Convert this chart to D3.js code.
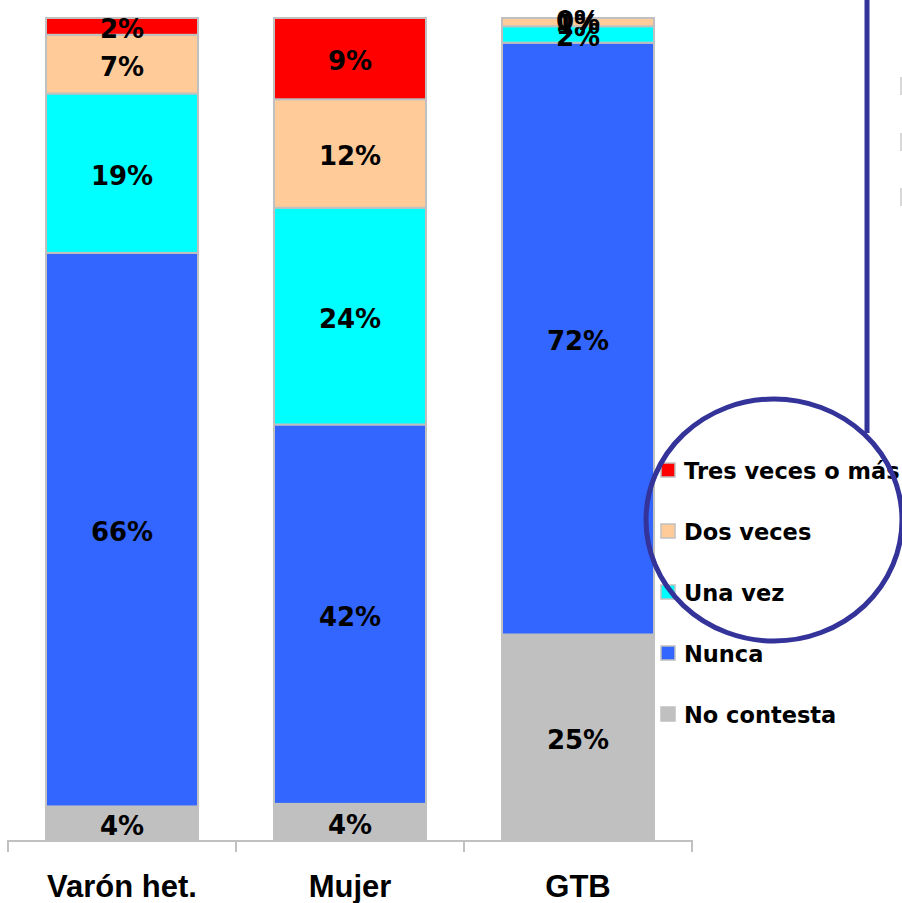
<!DOCTYPE html>
<html>
<head>
<meta charset="utf-8">
<script src="https://cdn.jsdelivr.net/npm/d3@7"></script>
<style>
  html, body { margin: 0; padding: 0; background: #fff; }
  svg { display: block; }
</style>
</head>
<body>
<svg id="chart" width="902" height="903"></svg>
<script>
// Groups shown on the x axis
const categories = ["Varón het.", "Mujer", "GTB"];

// Response series, bottom of the stack first
const seriesNames = ["No contesta", "Nunca", "Una vez", "Dos veces", "Tres veces o más"];
const seriesColors = ["#c0c0c0", "#3366ff", "#00ffff", "#ffcc99", "#ff0000"];

// Percentages per group
const noContesta = [4, 4, 25];
const nunca      = [66, 42, 72];
const unaVez     = [19, 24, 2];
const dosVeces   = [7, 12, 1];
const tresVeces  = [2, 9, 0];

// Legend order (top to bottom)
const legendOrder = ["Tres veces o más", "Dos veces", "Una vez", "Nunca", "No contesta"];

const seriesValues = [noContesta, nunca, unaVez, dosVeces, tresVeces];
const rows = categories.map((c, i) => {
  const r = { category: c };
  seriesNames.forEach((s, k) => r[s] = seriesValues[k][i]);
  return r;
});

const svg = d3.select("#chart");
const plot = { left: 8, right: 692, top: 18, bottom: 840 };

const x = d3.scaleBand()
  .domain(categories)
  .range([plot.left, plot.right])
  .paddingInner(1 / 3)
  .paddingOuter(1 / 6);

const y = d3.scaleLinear().domain([0, 1]).range([plot.bottom, plot.top]);

const color = d3.scaleOrdinal().domain(seriesNames).range(seriesColors);

const stacked = d3.stack()
  .keys(seriesNames)
  .offset(d3.stackOffsetExpand)(rows);

// Stacked bars
const layers = svg.append("g").selectAll("g")
  .data(stacked)
  .join("g")
  .attr("fill", d => color(d.key));

layers.selectAll("rect")
  .data(d => d.map(p => ({ key: d.key, p })))
  .join("rect")
  .attr("x", d => x(d.p.data.category))
  .attr("y", d => y(d.p[1]))
  .attr("width", x.bandwidth())
  .attr("height", d => y(d.p[0]) - y(d.p[1]))
  .attr("stroke", "#c0c0c0")
  .attr("stroke-width", 2);

// Value labels
layers.selectAll("text")
  .data(d => d.map(p => ({ key: d.key, p })))
  .join("text")
  .attr("x", d => x(d.p.data.category) + x.bandwidth() / 2)
  .attr("y", d => (y(d.p[0]) + y(d.p[1])) / 2)
  .attr("dy", "0.45em")
  .attr("text-anchor", "middle")
  .attr("fill", "#000")
  .style("font-family", "'DejaVu Sans', Verdana, sans-serif")
  .style("font-weight", "bold")
  .style("font-size", "26px")
  .text(d => d.p.data[d.key] + "%");

// Category axis
const axis = svg.append("g");
axis.append("line")
  .attr("x1", plot.left).attr("x2", plot.right)
  .attr("y1", plot.bottom + 1).attr("y2", plot.bottom + 1)
  .attr("stroke", "#c0c0c0").attr("stroke-width", 2);

const step = x.step();
const boundaries = d3.range(categories.length + 1).map(i => plot.left + i * step);
axis.selectAll("line.tick")
  .data(boundaries)
  .join("line")
  .attr("class", "tick")
  .attr("x1", d => d).attr("x2", d => d)
  .attr("y1", plot.bottom).attr("y2", plot.bottom + 12)
  .attr("stroke", "#c0c0c0").attr("stroke-width", 2);

axis.selectAll("text")
  .data(categories)
  .join("text")
  .attr("x", d => x(d) + x.bandwidth() / 2)
  .attr("y", 897)
  .attr("text-anchor", "middle")
  .attr("fill", "#000")
  .style("font-family", "'Liberation Sans', Arial, sans-serif")
  .style("font-weight", "bold")
  .style("font-size", "31px")
  .text(d => d);

// Legend
const legend = svg.append("g").attr("transform", "translate(661,470)");
const legendItems = legend.selectAll("g")
  .data(legendOrder)
  .join("g")
  .attr("transform", (d, i) => `translate(0,${i * 61})`);

legendItems.append("rect")
  .attr("x", 0).attr("y", -7)
  .attr("width", 14).attr("height", 14)
  .attr("fill", d => color(d))
  .attr("stroke", "#c0c0c0")
  .attr("stroke-width", 1.5);

legendItems.append("text")
  .attr("x", 23)
  .attr("dy", "0.38em")
  .attr("fill", "#000")
  .style("font-family", "'DejaVu Sans', Verdana, sans-serif")
  .style("font-size", "22.5px")
  .style("font-weight", "bold")
  .text(d => d);

// Callout: connector line and circle around the legend
const callout = svg.append("g")
  .attr("fill", "none")
  .attr("stroke", "#333399")
  .attr("stroke-width", 5);
callout.append("line")
  .attr("x1", 867).attr("x2", 867)
  .attr("y1", 0).attr("y2", 433);
callout.append("ellipse")
  .attr("cx", 774).attr("cy", 520)
  .attr("rx", 128).attr("ry", 121);

// Cut-off marks at the right edge
svg.append("g").selectAll("rect")
  .data([77, 133, 188])
  .join("rect")
  .attr("x", 900).attr("y", d => d)
  .attr("width", 2).attr("height", 18)
  .attr("fill", "#d8d8d8");
</script>
</body>
</html>
